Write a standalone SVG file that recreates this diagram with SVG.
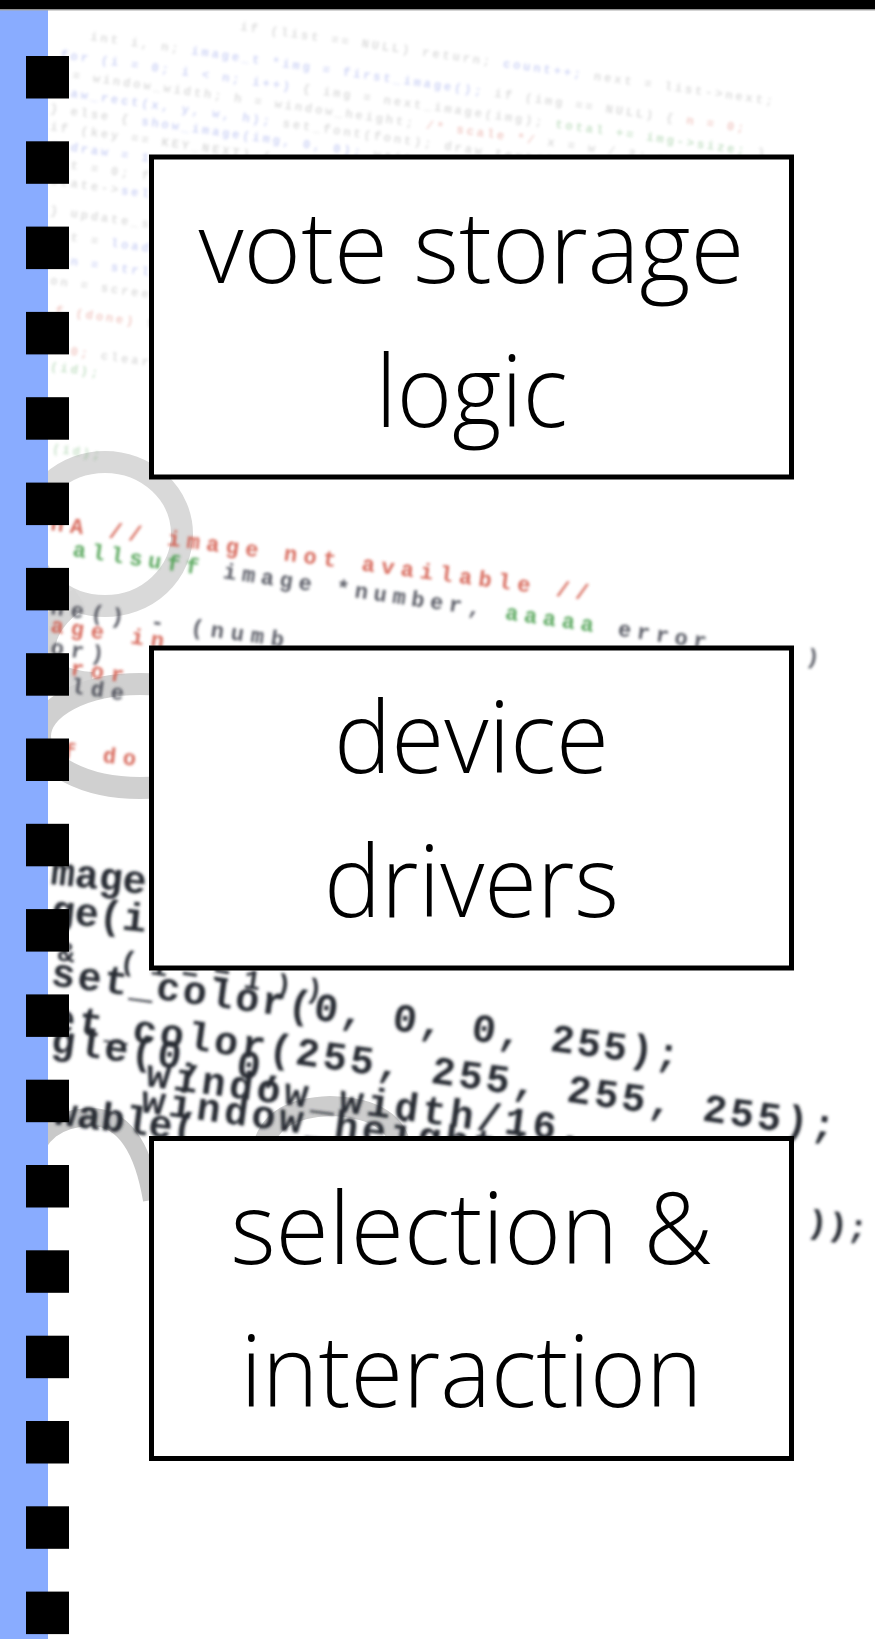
<svg xmlns="http://www.w3.org/2000/svg" width="875" height="1639" viewBox="0 0 875 1639">
  <defs>
    <style>
      .node rect { fill: #ffffff; stroke: #000000; stroke-width: 5; }
      .label { font-family: "Open Sans", "Lato", "DejaVu Sans", sans-serif; font-weight: 300; font-size: 100px; fill: #000000; text-anchor: middle; }
      .code { font-family: "Liberation Mono", "DejaVu Sans Mono", monospace; font-weight: bold; }
      .big { font-size: 40px; fill: #262a33; }
      .mid { font-size: 22px; }
      .small { font-size: 22px; letter-spacing: 7px; }
      .tiny { font-size: 12px; letter-spacing: 3px; }
      .red { fill: #d0503f; }
      .grn { fill: #3f9a44; }
      .blu { fill: #5b6fe0; }
      .dk { fill: #3a3d48; }
      .gry { fill: #8a8a8a; }
      .glyph { fill: none; stroke-linecap: butt; }
      .bullet { fill: #000000; }
    </style>
    <filter id="soft" filterUnits="userSpaceOnUse" x="0" y="0" width="875" height="1639">
      <feGaussianBlur stdDeviation="1.4"/>
    </filter>
    <filter id="softer" filterUnits="userSpaceOnUse" x="0" y="0" width="875" height="1639">
      <feGaussianBlur stdDeviation="1.7"/>
    </filter>
  </defs>

  <!-- page -->
  <rect x="0" y="0" width="875" height="1639" fill="#ffffff"/>

  <!-- large pale letterforms behind the code -->
  <g id="backdrop-letters" class="glyph">
    <ellipse cx="105" cy="534" rx="77" ry="72" stroke="#d9d9d9" stroke-width="22"/>
    <path d="M 80 598 Q 44 622 44 652 Q 46 680 92 683" stroke="#d6d6d6" stroke-width="22"/>
    <ellipse cx="140" cy="736" rx="100" ry="52" stroke="#d0d0d0" stroke-width="22"/>
    <path d="M 30 1165 Q 40 1118 92 1117 Q 138 1118 152 1200" stroke="#c9c9c9" stroke-width="18"/>
    <path d="M 262 1150 Q 270 1108 330 1106 Q 395 1108 402 1150" stroke="#cdcdcd" stroke-width="20"/>
  </g>

  <!-- faint listing in the upper part -->
  <g id="code-faint" class="code tiny" opacity="0.3" filter="url(#softer)">
    <text transform="translate(240,30) rotate(8)"><tspan class="gry">     if (list == NULL) return;       </tspan><tspan class="blu">count++;</tspan><tspan class="gry">  next = list-&gt;next;</tspan></text>
    <text transform="translate(90,40) rotate(8)"><tspan class="gry">  int i, n;  </tspan><tspan class="blu">image_t *img = first_image();</tspan><tspan class="gry">    if (img == NULL) {   </tspan><tspan class="red">n = 0;</tspan></text>
    <text transform="translate(60,58) rotate(8)"><tspan class="blu">for (i = 0; i &lt; n; i++)</tspan><tspan class="gry"> {  img = next_image(img);   </tspan><tspan class="grn">total += img-&gt;size;</tspan><tspan class="gry">  }</tspan></text>
    <text transform="translate(52,76) rotate(8)"><tspan class="gry">  w = window_width;  h = window_height;   </tspan><tspan class="red">/* scale */</tspan><tspan class="gry">  x = w / 2;  y = h / 2;</tspan></text>
    <text transform="translate(50,94) rotate(8)"><tspan class="blu">draw_rect(x, y, w, h);</tspan><tspan class="gry">   set_font(font);   </tspan><tspan class="gry">draw_text(label, x, y);</tspan><tspan class="grn">  /* done */</tspan></text>
    <text transform="translate(50,112) rotate(8)"><tspan class="gry">  } else {   </tspan><tspan class="blu">show_image(img, 0, 0);</tspan><tspan class="gry">   wait_for_input();    </tspan><tspan class="red">key = read_key();</tspan></text>
    <text transform="translate(50,130) rotate(8)"><tspan class="gry">  if (key == KEY_NEXT) {  </tspan><tspan class="blu">page++;</tspan><tspan class="gry">   } else if (key == KEY_BACK) {  page--;  }</tspan></text>
    <text transform="translate(50,148) rotate(8)"><tspan class="blu">  redraw = 1;</tspan><tspan class="gry">    break;   </tspan><tspan class="gry">case 2:  </tspan><tspan class="red">select(page);</tspan></text>
    <text transform="translate(50,166) rotate(8)"><tspan class="gry">ret = 0;     </tspan><tspan class="gry">  for (j = 0; j &lt; count; j++)   </tspan><tspan class="blu">mark(j);</tspan></text>
    <text transform="translate(50,184) rotate(8)"><tspan class="gry">  state-&gt;</tspan><tspan class="blu">selected</tspan><tspan class="gry"> = j;     return ret;   }</tspan></text>
    <text transform="translate(50,214) rotate(8)"><tspan class="gry">  }   </tspan><tspan class="gry">  update_screen(state);      </tspan><tspan class="gry">  flush();</tspan></text>
    <text transform="translate(50,238) rotate(8)"><tspan class="gry">ret = </tspan><tspan class="blu">load(</tspan><tspan class="gry">name);    if (ret &lt; 0)   goto fail;  </tspan><tspan class="gry">    ...</tspan></text>
    <text transform="translate(50,262) rotate(8)"><tspan class="gry">  </tspan><tspan class="blu">len = strlen(buf);</tspan><tspan class="gry">        out(buf, len);            </tspan><tspan class="gry">    . . ,</tspan></text>
    <text transform="translate(50,284) rotate(8)"><tspan class="gry">on = </tspan><tspan class="gry">screen_on();    if (!on)  return;</tspan></text>
    <text transform="translate(55,314) rotate(8)"><tspan class="red">f (done)</tspan><tspan class="gry">   finish();   </tspan></text>
    <text transform="translate(50,352) rotate(8)"><tspan class="gry">  </tspan><tspan class="red">n=0;</tspan><tspan class="gry">     clear(area);     reset(area, n);                                      </tspan><tspan class="gry"> . . . ,</tspan></text>
    <text transform="translate(50,370) rotate(8)"><tspan class="grn">  (id);</tspan></text>
    <text transform="translate(52,452) rotate(8)"><tspan class="grn">  (id);</tspan></text>
  </g>

  <!-- listing in the middle -->
  <g id="code-middle" class="code" opacity="0.85" filter="url(#softer)">
    <text class="mid red" letter-spacing="6.4" transform="translate(50,530) rotate(7.4)">nA // image not available //</text>
    <text class="mid" letter-spacing="5.8" transform="translate(72,556) rotate(8.3)"><tspan class="grn">allsuff </tspan><tspan class="dk">image *number, </tspan><tspan class="grn">aaaaa </tspan><tspan class="dk">error ___ )</tspan></text>
    <text class="small dk" transform="translate(50,614) rotate(8)">ne() - (numb</text>
    <text class="small red" transform="translate(50,632) rotate(8)">age in</text>
    <text class="small dk" transform="translate(50,654) rotate(8)">or)</text>
    <text class="small red" transform="translate(50,672) rotate(8)">rror</text>
    <text class="small dk" transform="translate(50,690) rotate(8)">ilde</text>
    <text class="small red" transform="translate(62,758) rotate(6)">f do</text>
  </g>

  <!-- listing in the lower part -->
  <g id="code-lower" class="code big" filter="url(#soft)">
    <text transform="translate(50,884) rotate(6)">mage</text>
    <text transform="translate(50,922) rotate(6)">ge(i</text>
    <text font-size="28" letter-spacing="14.5" transform="translate(57,960) rotate(8.5)">&amp; (i==1))</text>
    <text letter-spacing="2.5" transform="translate(50,985) rotate(7.5)">set_color(0, 0, 0, 255);</text>
    <text letter-spacing="3.4" transform="translate(50,1030) rotate(7.9)">et_color(255, 255, 255, 255);</text>
    <text letter-spacing="2.7" transform="translate(50,1052) rotate(7.5)">gle(0, 0,</text>
    <text letter-spacing="3.8" transform="translate(145,1086) rotate(7.5)">window_width/16,</text>
    <text letter-spacing="3.8" transform="translate(140,1112) rotate(7.5)">window_height/16</text>
    <text letter-spacing="0" transform="translate(52,1124) rotate(7)">wable(</text>
    <text font-size="34" letter-spacing="0" transform="translate(806,1232) rotate(7)">));</text>
  </g>

  <!-- margin strip with punch marks -->
  <g id="margin">
    <rect x="0" y="10" width="48" height="1629" fill="#89acff"/>
    <rect class="bullet" x="26" y="56" width="43" height="42.5"/>
    <rect class="bullet" x="26" y="141.3" width="43" height="42.5"/>
    <rect class="bullet" x="26" y="226.6" width="43" height="42.5"/>
    <rect class="bullet" x="26" y="311.9" width="43" height="42.5"/>
    <rect class="bullet" x="26" y="397.2" width="43" height="42.5"/>
    <rect class="bullet" x="26" y="482.6" width="43" height="42.5"/>
    <rect class="bullet" x="26" y="567.9" width="43" height="42.5"/>
    <rect class="bullet" x="26" y="653.2" width="43" height="42.5"/>
    <rect class="bullet" x="26" y="738.5" width="43" height="42.5"/>
    <rect class="bullet" x="26" y="823.8" width="43" height="42.5"/>
    <rect class="bullet" x="26" y="909.1" width="43" height="42.5"/>
    <rect class="bullet" x="26" y="994.4" width="43" height="42.5"/>
    <rect class="bullet" x="26" y="1079.7" width="43" height="42.5"/>
    <rect class="bullet" x="26" y="1165" width="43" height="42.5"/>
    <rect class="bullet" x="26" y="1250.3" width="43" height="42.5"/>
    <rect class="bullet" x="26" y="1335.7" width="43" height="42.5"/>
    <rect class="bullet" x="26" y="1421" width="43" height="42.5"/>
    <rect class="bullet" x="26" y="1506.3" width="43" height="42.5"/>
    <rect class="bullet" x="26" y="1591.6" width="43" height="42.5"/>
  </g>

  <!-- title bar -->
  <rect x="0" y="0" width="875" height="9.5" fill="#000000"/>
  <rect x="0" y="9.5" width="875" height="1" fill="#a8a8a8"/>

  <!-- layers -->
  <g id="node-vote-storage" class="node">
    <rect x="151.5" y="157" width="640" height="320"/>
    <text class="label" x="471.5" y="283" textLength="546" lengthAdjust="spacingAndGlyphs">vote storage</text>
    <text class="label" x="471.5" y="427" textLength="192" lengthAdjust="spacingAndGlyphs">logic</text>
  </g>
  <g id="node-device-drivers" class="node">
    <rect x="151.5" y="648" width="640" height="320"/>
    <text class="label" x="471.5" y="773" textLength="275" lengthAdjust="spacingAndGlyphs">device</text>
    <text class="label" x="471.5" y="917" textLength="295" lengthAdjust="spacingAndGlyphs">drivers</text>
  </g>
  <g id="node-selection" class="node">
    <rect x="151.5" y="1138.5" width="640" height="320"/>
    <text class="label" x="471.5" y="1264" textLength="482" lengthAdjust="spacingAndGlyphs">selection &amp;</text>
    <text class="label" x="471.5" y="1407" textLength="462" lengthAdjust="spacingAndGlyphs">interaction</text>
  </g>

  <g id="connectors"/>
</svg>
